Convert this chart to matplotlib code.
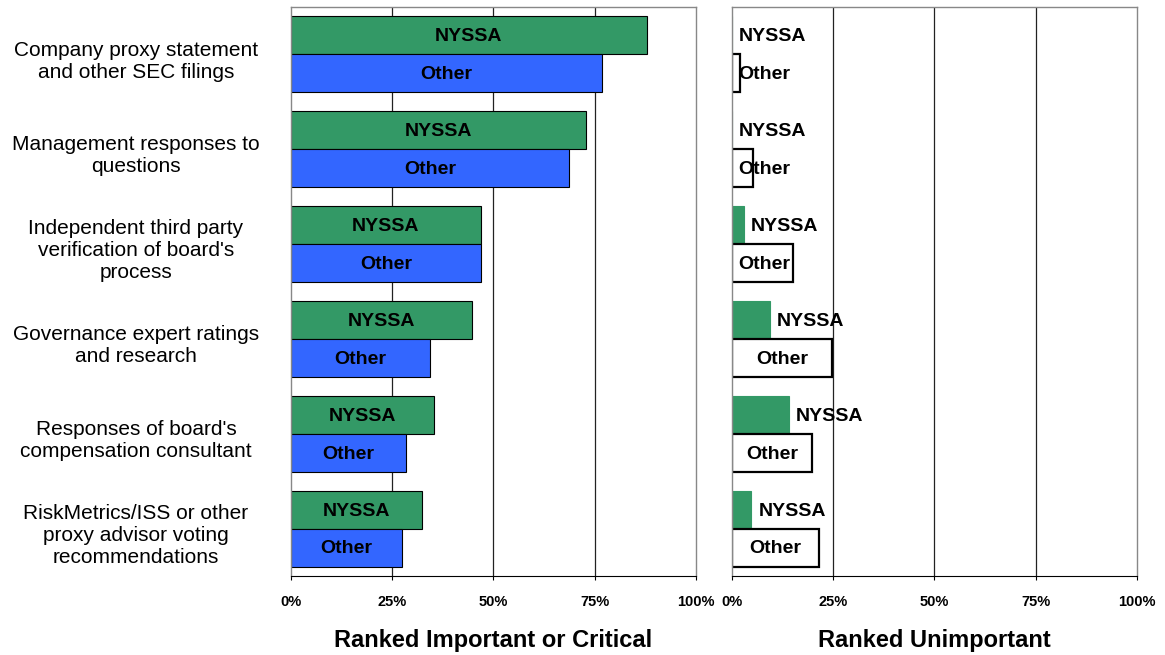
import matplotlib
matplotlib.use('Agg')
import matplotlib.pyplot as plt
import matplotlib.transforms as mtransforms
import numpy as np

plt.rcParams['font.family'] = ['Liberation Sans', 'DejaVu Sans']

# Data (percent of respondents)
categories = [
    'Company proxy statement\nand other SEC filings',
    'Management responses to\nquestions',
    'Independent third party\nverification of board\'s\nprocess',
    'Governance expert ratings\nand research',
    'Responses of board\'s\ncompensation consultant',
    'RiskMetrics/ISS or other\nproxy advisor voting\nrecommendations',
]
nyssa_important = [87.9, 72.8, 46.9, 44.7, 35.3, 32.3]
other_important = [76.9, 68.8, 46.9, 34.4, 28.4, 27.5]
nyssa_unimportant = [0.0, 0.0, 3.0, 9.4, 14.0, 4.8]
other_unimportant = [2.0, 5.1, 15.0, 24.6, 19.7, 21.6]

series_names = ['NYSSA', 'Other']
ticks = [0, 25, 50, 75, 100]
tick_labels = ['0%', '25%', '50%', '75%', '100%']

green = '#339966'
blue = '#3366FF'

fig = plt.figure(figsize=(11.65, 6.55), dpi=100)
ax1 = fig.add_axes([0.2498, 0.1206, 0.3474, 0.8687])
ax2 = fig.add_axes([0.6283, 0.1206, 0.3474, 0.8687])

y = np.arange(len(categories))
h = 0.4
dy = 0.015  # nudge bar texts down a touch


def style(ax, xlabel):
    ax.set_xlim(0, 100)
    ax.set_ylim(len(categories) - 0.5, -0.5)
    ax.set_yticks([])
    ax.set_xticks(ticks)
    ax.set_xticklabels(tick_labels, fontsize=10.5, fontweight='bold')
    ax.tick_params(axis='x', length=3, pad=11, direction='out', width=0.8)
    for xv in ticks[1:-1]:
        ax.axvline(xv, color='#222222', lw=0.9, zorder=0)
    for s in ['top', 'right', 'left']:
        ax.spines[s].set_color('#888888')
        ax.spines[s].set_linewidth(1.0)
    ax.spines['bottom'].set_color('black')
    ax.set_xlabel(xlabel, fontsize=17, fontweight='bold', labelpad=14)


style(ax1, 'Ranked Important or Critical')
style(ax2, 'Ranked Unimportant')

# left panel
ax1.barh(y - h / 2, nyssa_important, height=h, color=green, edgecolor='black', lw=0.8, zorder=2)
ax1.barh(y + h / 2, other_important, height=h, color=blue, edgecolor='black', lw=0.8, zorder=2)
for i in range(len(categories)):
    ax1.text(nyssa_important[i] / 2, i - h / 2 + dy, series_names[0], ha='center', va='center',
             fontsize=14, fontweight='bold', zorder=3)
    ax1.text(other_important[i] / 2, i + h / 2 + dy, series_names[1], ha='center', va='center',
             fontsize=14, fontweight='bold', zorder=3)

# right panel
ax2.barh(y - h / 2, nyssa_unimportant, height=h, color=green, edgecolor=green, lw=0.8, zorder=2)
ax2.barh(y + h / 2, other_unimportant, height=h, color='white', edgecolor='black', lw=1.6, zorder=2)
for i in range(len(categories)):
    ax2.text(nyssa_unimportant[i] + 1.7, i - h / 2 + dy, series_names[0], ha='left', va='center',
             fontsize=14, fontweight='bold', zorder=3)
    ax2.text(max(other_unimportant[i] / 2, 8.0), i + h / 2 + dy, series_names[1], ha='center',
             va='center', fontsize=14, fontweight='bold', zorder=3)

# category labels
trans = mtransforms.blended_transform_factory(fig.transFigure, ax1.transData)
for i, c in enumerate(categories):
    ax1.text(136 / 1165, i + 0.07, c, transform=trans, ha='center', va='center',
             fontsize=15, linespacing=1.2)

fig.savefig('out.png', dpi=100)
